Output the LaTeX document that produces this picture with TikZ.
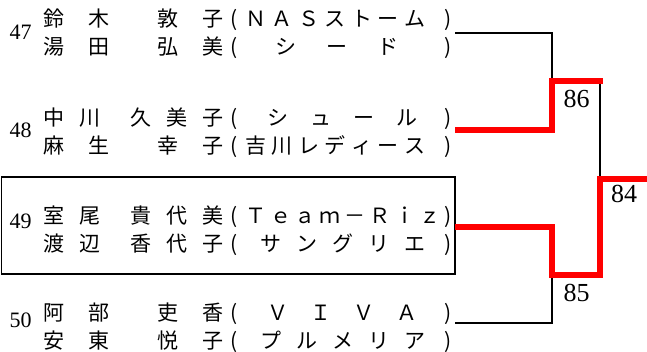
\documentclass[tikz,border=0pt]{standalone}
\usepackage{fontspec}
\usepackage{tikz}
\newfontfamily\jpfont{Noto Sans CJK JP}
\newfontfamily\numfont{Liberation Serif}

% one line of an entry: name field, club field in brackets
\newcommand\pairline[2]{\makebox[180pt][s]{#1}\makebox[22pt]{(}\makebox[195pt][s]{#2}\makebox[15pt]{)}}

\tikzset{
  entry/.style={anchor=west, inner sep=0pt, align=left,
    font=\jpfont\fontsize{21}{28}\selectfont},
  seed/.style={inner sep=0pt, font=\numfont\fontsize{22}{22}\selectfont},
  score/.style={inner sep=0pt, font=\numfont\fontsize{26}{26}\selectfont},
  link/.style={line width=1.6pt},
  winpath/.style={line width=6pt, red},
  seedbox/.style={line width=1.6pt},
}

\begin{document}
\begin{tikzpicture}[x=1pt,y=-1pt]
    \useasboundingbox (0,0) rectangle (647,351);

    % draw frame of the seeded pair
    \draw[seedbox] (1.5,177) rectangle (455,274);

    % draw numbers
    \node[seed] (s47) at (20.5,32.5) {47};
    \node[seed] (s48) at (20.5,130.5) {48};
    \node[seed] (s49) at (20.5,221) {49};
    \node[seed] (s50) at (20.5,320.5) {50};

    % draw pairs
    \node[entry] (e47) at (43,34) {%
      \pairline{鈴\hfill 木\hfill\hfill 敦\hfill 子}{Ｎ\hfill Ａ\hfill Ｓ\hfill ス\hfill ト\hfill ー\hfill ム\hspace{15pt}}\\
      \pairline{湯\hfill 田\hfill\hfill 弘\hfill 美}{\hfill シ\hfill ー\hfill ド\hfill\hspace{12pt}}};
    \node[entry] (e48) at (43,132.5) {%
      \pairline{中\hfill 川\hfill\hfill 久\hfill 美\hfill 子}{\hfill シ\hfill ュ\hfill ー\hfill ル\hfill}\\
      \pairline{麻\hfill 生\hfill\hfill 幸\hfill 子}{吉\hfill 川\hfill レ\hfill デ\hfill ィ\hfill ー\hfill ス\hspace{15pt}}};
    \node[entry] (e49) at (43,231) {%
      \pairline{室\hfill 尾\hfill\hfill 貴\hfill 代\hfill 美}{Ｔ\hfill ｅ\hfill ａ\hfill ｍ\hfill －\hfill Ｒ\hfill ｉ\hfill ｚ}\\
      \pairline{渡\hfill 辺\hfill\hfill 香\hfill 代\hfill 子}{\hfill サ\hfill ン\hfill グ\hfill リ\hfill エ\hfill}};
    \node[entry] (e50) at (43,327.5) {%
      \pairline{阿\hfill 部\hfill\hfill 吏\hfill 香}{\hfill Ｖ\hfill Ｉ\hfill Ｖ\hfill Ａ\hfill}\\
      \pairline{安\hfill 東\hfill\hfill 悦\hfill 子}{\hfill プ\hfill ル\hfill メ\hfill リ\hfill ア\hfill}};

    % bracket points
    \coordinate (a47) at (455,33);
    \coordinate (a48) at (455,130);
    \coordinate (a49) at (455,227);
    \coordinate (a50) at (455,323);
    \coordinate (j86) at (552,81);
    \coordinate (j85) at (552,275);
    \coordinate (j84) at (600,179);
    \coordinate (out) at (647,179);

    % draw bracket lines
    \draw[link] (a47) -| (j86);
    \draw[link] (a50) -| (j85);
    \draw[link] (j86 -| j84) -- (j84);
    \draw[winpath] (a48) -| (j86) -- ([xshift=3pt]j86 -| j84);
    \draw[winpath] (a49) -| (j85) -| (j84) -- (out);

    % draw match numbers
    \node[score] (m86) at (576.5,99) {86};
    \node[score] (m85) at (576.5,292.5) {85};
    \node[score] (m84) at (624,194) {84};
  \end{tikzpicture}
\end{document}
